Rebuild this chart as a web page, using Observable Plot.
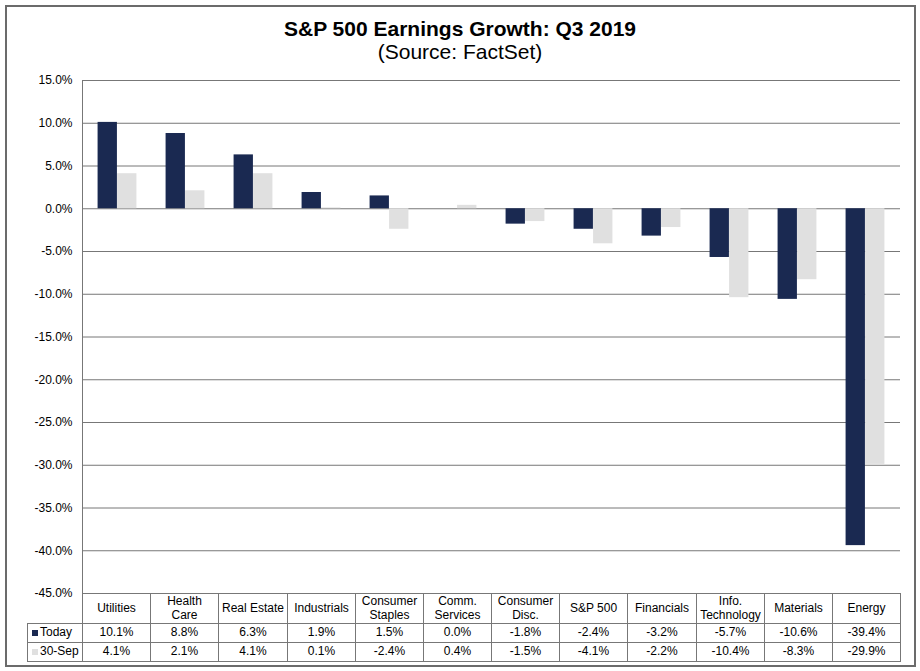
<!DOCTYPE html>
<html>
<head>
<meta charset="utf-8">
<script src="https://cdn.jsdelivr.net/npm/d3@7"></script>
<script src="https://cdn.jsdelivr.net/npm/@observablehq/plot@0.6"></script>
<style>
  html, body { margin: 0; padding: 0; background: #fff; }
  #chart { position: relative; width: 920px; height: 671px; font-family: "Liberation Sans", Arial, sans-serif; color: #000; overflow: hidden; }
  #chart svg { position: absolute; left: 0; top: 0; }
  #chart svg text { fill: #000; }
  .abs { position: absolute; }
  .title { left: 0; width: 920px; text-align: center; white-space: nowrap; }
  .cell { position: absolute; box-sizing: border-box; border: 1px solid #777; display: flex; align-items: center; justify-content: center; text-align: center; font-size: 12px; line-height: 13.5px; background: transparent; }
  .leg { justify-content: flex-start; padding-left: 4px; }
  .sw { display: inline-block; width: 6px; height: 6px; margin-right: 2px; }
</style>
</head>
<body>
<div id="chart"></div>
<script>
// ---- data ----
const categories = ["Utilities", "Health Care", "Real Estate", "Industrials", "Consumer Staples", "Comm. Services", "Consumer Disc.", "S&P 500", "Financials", "Info. Technology", "Materials", "Energy"];
const headerLabels = ["Utilities", "Health<br>Care", "Real Estate", "Industrials", "Consumer<br>Staples", "Comm.<br>Services", "Consumer<br>Disc.", "S&P 500", "Financials", "Info.<br>Technology", "Materials", "Energy"];
const today = [10.1, 8.8, 6.3, 1.9, 1.5, 0.0, -1.8, -2.4, -3.2, -5.7, -10.6, -39.4];
const sep30 = [4.1, 2.1, 4.1, 0.1, -2.4, 0.4, -1.5, -4.1, -2.2, -10.4, -8.3, -29.9];
const seriesNames = ["Today", "30-Sep"];
const yTicks = [15, 10, 5, 0, -5, -10, -15, -20, -25, -30, -35, -40, -45];
const titleText = "S&P 500 Earnings Growth: Q3 2019";
const subtitleText = "(Source: FactSet)";

// ---- layout / style ----
const W = 920, H = 600;
const mL = 82, mR = 20, mT = 80, mB = 7;
const navy = "#1a2951", light = "#e0e0e0", gridC = "#777";
const bw = (W - mL - mR) / categories.length;
const barW = 19.5;
const outer = (bw - 2 * barW) / 2;

const rows = categories.map((c, i) => ({category: c, today: today[i], sep: sep30[i]}));
const fmt = d => d.toFixed(1) + "%";

const chart = document.getElementById("chart");

const plot = Plot.plot({
  width: W, height: H,
  marginTop: mT, marginBottom: mB, marginLeft: mL, marginRight: mR,
  style: {fontFamily: "'Liberation Sans', Arial, sans-serif", fontSize: "12px", color: gridC, background: "transparent", overflow: "visible"},
  x: {domain: categories, padding: 0, axis: null},
  y: {domain: [-45, 15], ticks: yTicks, tickFormat: fmt, tickSize: 0, tickPadding: 10, label: null, line: true},
  marks: [
    Plot.ruleY(yTicks, {stroke: gridC, strokeWidth: 1}),
    Plot.barY(rows, {x: "category", y: "today", fill: navy, insetLeft: outer, insetRight: bw - outer - barW}),
    Plot.barY(rows, {x: "category", y: "sep", fill: light, insetLeft: outer + barW, insetRight: outer})
  ]
});
chart.appendChild(plot);

// outer border
const border = document.createElement("div");
border.className = "abs";
Object.assign(border.style, {left: "5px", top: "5px", width: "911px", height: "662px", border: "2px solid #6b6b6b", boxSizing: "border-box"});
chart.appendChild(border);

// titles
function addText(txt, top, size, weight) {
  const d = document.createElement("div");
  d.className = "abs title";
  d.textContent = txt;
  Object.assign(d.style, {top: top + "px", fontSize: size + "px", fontWeight: weight, lineHeight: "24px"});
  chart.appendChild(d);
}
addText(titleText, 17, 21, "bold");
addText(subtitleText, 40, 21, "normal");

// data table
const rowTops = [593, 623, 642, 661];
function cell(x0, x1, r, html, cls) {
  const d = document.createElement("div");
  d.className = "cell" + (cls ? " " + cls : "");
  const l = Math.round(x0), rgt = Math.round(x1);
  Object.assign(d.style, {left: l + "px", top: rowTops[r] + "px", width: (rgt - l + 1) + "px", height: (rowTops[r + 1] - rowTops[r] + 1) + "px"});
  d.innerHTML = html;
  chart.appendChild(d);
}
categories.forEach((c, i) => {
  const x0 = mL + i * bw, x1 = mL + (i + 1) * bw;
  cell(x0, x1, 0, headerLabels[i]);
  cell(x0, x1, 1, fmt(today[i]));
  cell(x0, x1, 2, fmt(sep30[i]));
});
cell(27, mL, 1, `<span class="sw" style="background:${navy}"></span>${seriesNames[0]}`, "leg");
cell(27, mL, 2, `<span class="sw" style="background:${light}"></span>${seriesNames[1]}`, "leg");
</script>
</body>
</html>
